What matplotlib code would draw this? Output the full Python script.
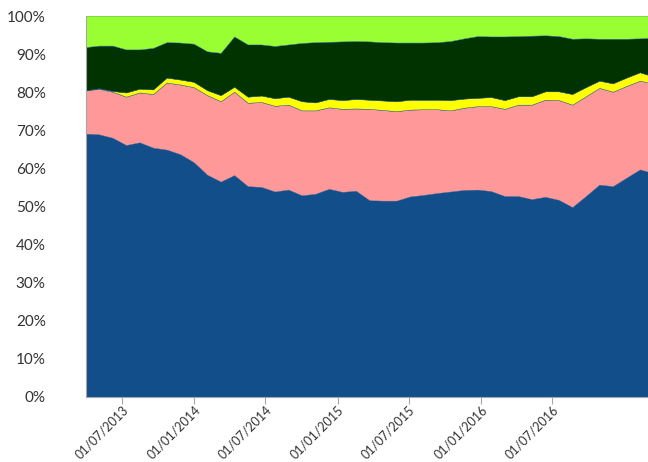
import matplotlib
matplotlib.use("Agg")
import matplotlib.pyplot as plt
import matplotlib.dates as mdates
from matplotlib.ticker import FuncFormatter, MultipleLocator, FixedLocator
import numpy as np
import pandas as pd

# periods (roughly every 34 days), first one at 01/04/2013
dates = pd.date_range("2013-04-01", "2017-03-16", periods=43)
tick_dates = pd.date_range("2013-07-01", "2016-07-01", freq="6MS")

# shares in % per period, bottom to top
blue = [69.0, 68.8, 67.9, 66.0, 66.7, 65.3, 64.8, 63.6, 61.5, 58.2, 56.4, 58.1, 55.2, 55.0,
        53.8, 54.3, 52.8, 53.2, 54.5, 53.7, 54.0, 51.5, 51.4, 51.4, 52.5, 52.9, 53.4, 53.8,
        54.2, 54.3, 53.9, 52.6, 52.6, 51.8, 52.4, 51.6, 49.7, 52.6, 55.6, 55.2, 57.4, 59.6, 58.6]
pink = [11.3, 12.0, 12.1, 12.7, 13.1, 14.1, 17.6, 18.3, 19.7, 20.9, 21.1, 21.9, 21.9, 22.3,
        22.5, 22.3, 22.3, 21.9, 21.4, 21.8, 21.6, 24.0, 23.8, 23.5, 22.8, 22.5, 22.0, 21.3,
        21.6, 21.9, 22.3, 22.9, 24.0, 24.8, 25.5, 26.2, 26.9, 26.2, 25.4, 24.8, 24.1, 23.3, 23.5]
yellow = [0.1, 0.1, 0.2, 1.1, 1.0, 1.2, 1.3, 1.3, 1.4, 1.3, 1.6, 1.3, 1.6, 1.7,
          2.0, 2.1, 2.4, 2.1, 2.2, 2.3, 2.5, 2.4, 2.5, 2.6, 2.6, 2.5, 2.5, 2.7,
          2.4, 2.2, 2.4, 2.3, 2.2, 2.2, 2.2, 2.3, 2.8, 2.4, 1.9, 2.2, 2.2, 2.2, 1.9]
dark_green = [11.3, 11.2, 11.9, 11.3, 10.3, 10.9, 9.3, 9.7, 10.0, 10.2, 11.1, 13.2, 13.7, 13.4,
              13.7, 13.7, 15.3, 15.8, 15.0, 15.4, 15.2, 15.3, 15.3, 15.4, 15.0, 15.0, 15.1, 15.5,
              15.8, 16.2, 15.9, 16.7, 15.8, 15.9, 14.7, 14.5, 14.5, 12.8, 11.0, 11.7, 10.2, 8.9, 10.2]
light_green = [8.3, 7.9, 7.9, 8.9, 8.9, 8.5, 7.0, 7.1, 7.4, 9.4, 9.8, 5.5, 7.6, 7.6,
               8.0, 7.6, 7.2, 7.0, 6.9, 6.8, 6.7, 6.8, 7.0, 7.1, 7.1, 7.1, 7.0, 6.7,
               6.0, 5.4, 5.5, 5.5, 5.4, 5.3, 5.2, 5.4, 6.1, 6.0, 6.1, 6.1, 6.1, 6.0, 5.8]

colors = ["#114E8A", "#FF9999", "#FFFF00", "#003300", "#99FF33"]

plt.rcParams['font.family'] = ['Lato', 'DejaVu Sans']

data = np.array([blue, pink, yellow, dark_green, light_green], dtype=float)
data = data / data.sum(axis=0) * 100

fig = plt.figure(figsize=(6.48, 4.62), dpi=100)
ax = fig.add_axes([86 / 648, 1 - 397 / 462, 1 - 86 / 648, (397 - 16) / 462])

ax.stackplot(dates, data, colors=colors, edgecolors=colors, linewidth=0.3)

ax.set_xlim(pd.Timestamp("2013-04-01"), pd.Timestamp("2017-03-01"))
ax.set_ylim(0, 100)

ax.xaxis.set_major_locator(FixedLocator(mdates.date2num(tick_dates)))
ax.xaxis.set_major_formatter(mdates.DateFormatter("%d/%m/%Y"))
ax.yaxis.set_major_locator(MultipleLocator(10))
ax.yaxis.set_major_formatter(FuncFormatter(lambda v, p: f"{v:.0f}%"))

for s in ["top", "right"]:
    ax.spines[s].set_visible(False)
ax.spines["left"].set_color("#A6A6A6")
ax.spines["bottom"].set_color("#A6A6A6")
ax.spines["left"].set_linewidth(0.8)
ax.spines["bottom"].set_linewidth(0.8)

ax.tick_params(axis="y", length=0, pad=29, labelsize=11, labelcolor="#333333")
ax.tick_params(axis="x", length=5, color="#A6A6A6", pad=0, labelsize=9, labelcolor="#333333")
for lbl in ax.get_xticklabels():
    lbl.set_rotation(45)
    lbl.set_ha("right")
    lbl.set_va("top")
    lbl.set_rotation_mode("anchor")

fig.savefig("out.png", dpi=100)
